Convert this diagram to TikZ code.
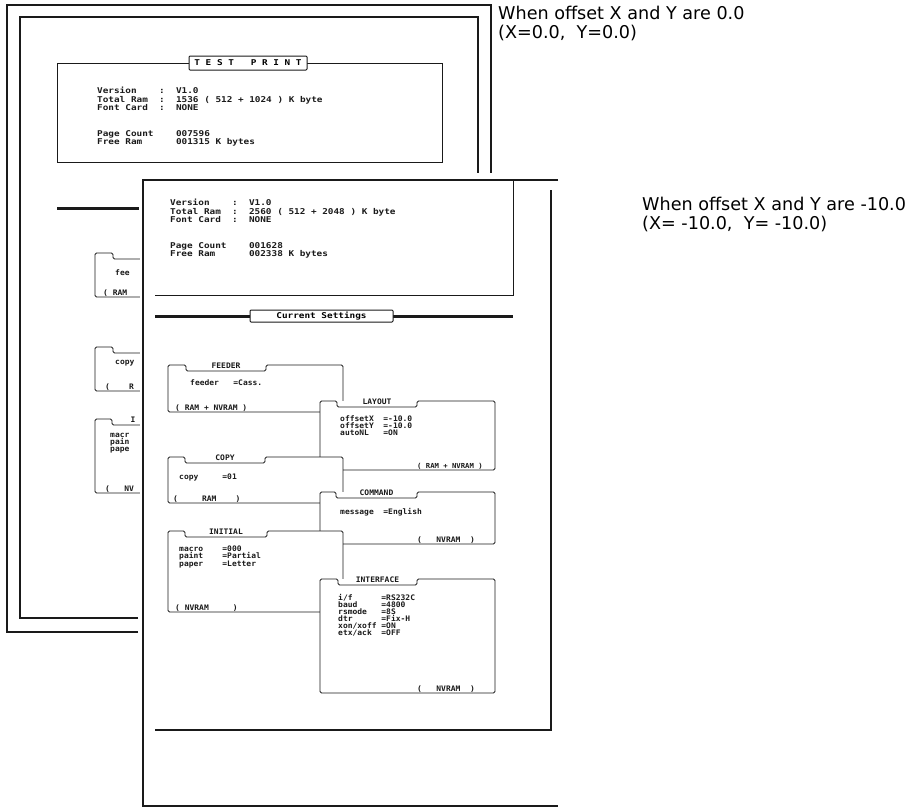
\documentclass[tikz,border=0pt]{standalone}
\usepackage{fontspec}
\usepackage{tikz}
\usetikzlibrary{positioning}
\setmainfont{DejaVu Sans}
\newfontfamily\prtfont[FakeStretch=1.17]{DejaVu Sans Mono Bold}
\newfontfamily\setfont[FakeStretch=1.05]{DejaVu Sans Mono Bold}
\newfontfamily\notefont{DejaVu Sans}
\definecolor{ink}{HTML}{1A1A1A}
\tikzset{
  sheet/.style={draw=ink, line width=1.7pt},
  frame/.style={draw=ink, line width=1.2pt},
  thin/.style={draw=ink, line width=0.9pt},
  heavy/.style={draw=ink, line width=3pt},
  prt/.style={font=\prtfont\fontsize{8}{8.4}\selectfont, text=ink, inner sep=0pt, align=left, anchor=north west},
  sml/.style={font=\setfont\fontsize{7.6}{7}\selectfont, text=ink, inner sep=0pt, align=left, anchor=north west},
  tabtitle/.style={font=\setfont\fontsize{7.6}{7}\selectfont, text=ink, inner sep=0pt},
  foot/.style={font=\setfont\fontsize{7.6}{7}\selectfont, text=ink, inner sep=0pt, anchor=south west},
  banner/.style={draw=ink, line width=1pt, fill=white, rounded corners=1pt, inner sep=0pt,
                 font=\prtfont\fontsize{8}{8.4}\selectfont},
  note/.style={font=\notefont\fontsize{17.6}{18.5}\selectfont, inner sep=0pt, align=left, anchor=north west},
}
% settings panel with a folder tab: name, left, top, right, bottom, notch from, notch to, title
\newcommand{\tabpanel}[8]{%
  \fill[white] (#2,#3) rectangle (#4,#5);
  \draw[thin, rounded corners=1.5pt] (#2,#5) -- (#2,#3) -- (#6,#3) -- (#6,#3+6) -- (#7,#3+6)
    -- (#7,#3) -- (#4,#3) -- (#4,#5) -- cycle;
  \node[tabtitle] (#1) at ({(#6+#7)/2},#3+0.5) {#8};
}

\begin{document}
\begin{tikzpicture}[x=1pt, y=-1pt]
  \useasboundingbox (0,0) rectangle (915,807);

  % sheet printed with offset 0.0
  \draw[frame] (138,632) -- (7,632) -- (7,5) -- (491,5) -- (491,173);
  \draw[frame] (138,618) -- (20,618) -- (20,17) -- (478,17) -- (478,173);
  \draw[thin] (57,63) rectangle (442,162);
  \node[banner, minimum width=118pt, minimum height=14pt] (testprint) at (248,63)
    {T~E~S~T~~~P~R~I~N~T};
  \node[prt] (oldinfo) at (97,87.1)
    {Version~~~~:~~V1.0\\
     Total~Ram~~:~~1536 ( 512 + 1024 ) K byte\\
     Font~Card~~:~~NONE\\[17.5pt]
     Page~Count~~~~007596\\
     Free~Ram~~~~~~001315 K bytes};
  \draw[heavy] (57,208) -- (139,208);
  \tabpanel{oldfeeder}{95}{253}{260}{297}{113}{200}{}
  \node[sml] (oldfeedtxt) at (115,269.5) {fee};
  \node[foot] (oldfeedram) at (103,296.5) {( RAM};
  \tabpanel{oldcopy}{95}{347}{260}{391}{113}{200}{}
  \node[sml] (oldcopytxt) at (115,360.5) {copy};
  \node[foot] (oldcopyram) at (105,390.5) {(~~~~R};
  \tabpanel{oldinitial}{95}{419}{260}{493}{112}{200}{}
  \node[tabtitle] (oldinittl) at (133,419.5) {I};
  \node[sml] (oldinittxt) at (110,433.5) {macr\\pain\\pape};
  \node[foot] (oldinitnv) at (105,492.5) {(~~~NV};

  % sheet printed with offset -10.0
  \fill[white] (140,177) rectangle (560,807);
  \draw[sheet] (558,180) -- (143,180) -- (143,806) -- (558,806);
  \draw[frame] (155,730) -- (551,730) -- (551,190);
  \draw[thin] (155,295) -- (513,295) -- (513,180);
  \node[prt] (newinfo) at (170,199.1)
    {Version~~~~:~~V1.0\\
     Total~Ram~~:~~2560 ( 512 + 2048 ) K byte\\
     Font~Card~~:~~NONE\\[17.5pt]
     Page~Count~~~~001628\\
     Free~Ram~~~~~~002338 K bytes};
  \draw[heavy] (155,316) -- (513,316);
  \node[banner, minimum width=143pt, minimum height=12pt] (curset) at (321.5,316) {Current Settings};

  \tabpanel{feeder}{168}{365}{343}{412}{186}{266}{FEEDER}
  \node[sml] (feedtxt) at (190,379.5) {feeder~~~=Cass.};
  \node[foot] (feedram) at (175,411.5) {( RAM + NVRAM )};

  \tabpanel{layout}{320}{401}{495}{470}{337}{417}{LAYOUT}
  \node[sml] (laytxt) at (340,415.5) {offsetX~~=-10.0\\offsetY~~=-10.0\\autoNL~~~=ON};
  \node[foot, font=\setfont\fontsize{6.9}{7}\selectfont] (layram) at (417,469.5) {( RAM + NVRAM )};

  \tabpanel{copy}{168}{457}{343}{503}{185}{265}{COPY}
  \node[sml] (copytxt) at (179,473.5) {copy~~~~~=01};
  \node[foot] (copyram) at (173,502.5) {(~~~~~RAM~~~~)};

  \tabpanel{command}{320}{492}{495}{544}{336}{417}{COMMAND}
  \node[sml] (cmdtxt) at (340,508.5) {message~~=English};
  \node[foot] (cmdnv) at (417,543.5) {(~~~NVRAM~~)};

  \tabpanel{initial}{168}{531}{343}{612}{185}{267}{INITIAL}
  \node[sml] (inittxt) at (179,545.5) {macro~~~~=000\\paint~~~~=Partial\\paper~~~~=Letter};
  \node[foot] (initnv) at (175,611.5) {(~NVRAM~~~~~)};

  \tabpanel{interface}{320}{579}{495}{693}{338}{417}{INTERFACE}
  \node[sml] (iftxt) at (338,594.5)
    {i/f~~~~~~=RS232C\\baud~~~~~=4800\\rsmode~~~=8S\\dtr~~~~~~=Fix-H\\xon/xoff~=ON\\etx/ack~~=OFF};
  \node[foot] (ifnv) at (417,692.5) {(~~~NVRAM~~)};

  % captions
  \node[note] (note0) at (498,6) {When offset X and Y are 0.0\\(X=0.0,~~Y=0.0)};
  \node[note] (note10) at (642,197) {When offset X and Y are -10.0\\(X=~-10.0,~~Y=~-10.0)};
\end{tikzpicture}
\end{document}
